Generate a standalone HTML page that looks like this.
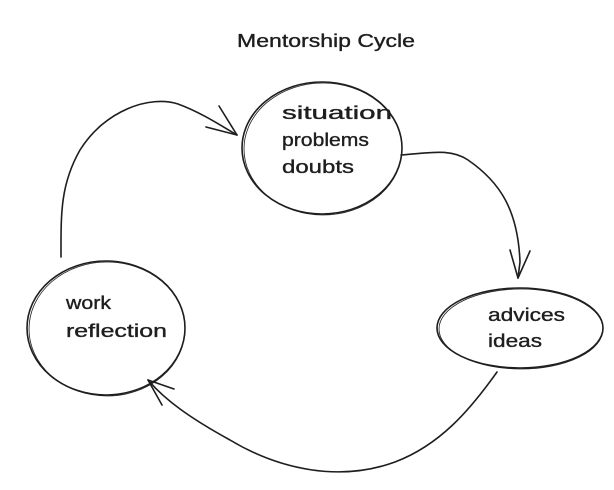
<!DOCTYPE html>
<html><head><meta charset="utf-8"><style>
html,body{margin:0;padding:0;background:#fff;}
svg{display:block;}
text{font-family:"Liberation Sans",sans-serif;fill:#1e1e1e;font-size:18px;stroke:#1e1e1e;stroke-width:0.35;}
</style></head><body>
<svg width="614" height="490" viewBox="0 0 614 490" xmlns="http://www.w3.org/2000/svg">
<g fill="none" stroke="#1e1e1e" stroke-width="1.6" stroke-linecap="round">
<ellipse cx="322" cy="148" rx="80" ry="66"/>
<ellipse cx="323" cy="149" rx="79" ry="66" stroke-width="0.8"/>
<ellipse cx="106" cy="328" rx="79" ry="67"/>
<ellipse cx="107" cy="329" rx="78" ry="67" stroke-width="0.8"/>
<ellipse cx="520" cy="328" rx="83" ry="40"/>
<ellipse cx="521" cy="329" rx="82" ry="40" stroke-width="0.8"/>
<path d="M61,257 C61,215 60,185 80,150 C105,110 150,95 178,104 C200,112 220,125 237,135"/>
<path d="M237,135 L206,127 M237,135 L219,106"/>
<path d="M401,155 C430,153 450,148 468,160 C500,182 518,210 520,262 L518,278"/>
<path d="M518,278 L510,250 M518,278 L530,251"/>
<path d="M497,372 C470,410 440,445 395,462 C340,482 280,470 230,440 C190,418 165,400 148,380"/>
<path d="M148,380 L174,389 M148,380 L162,405"/>
</g>
<text x="326" y="47" text-anchor="middle" textLength="178" lengthAdjust="spacingAndGlyphs">Mentorship Cycle</text>
<text x="282" y="119" textLength="110" lengthAdjust="spacingAndGlyphs">situation</text>
<text x="282" y="146" textLength="87" lengthAdjust="spacingAndGlyphs">problems</text>
<text x="282" y="173" textLength="72" lengthAdjust="spacingAndGlyphs">doubts</text>
<text x="66" y="309" textLength="45" lengthAdjust="spacingAndGlyphs">work</text>
<text x="66" y="337" textLength="101" lengthAdjust="spacingAndGlyphs">reflection</text>
<text x="488" y="321" textLength="77" lengthAdjust="spacingAndGlyphs">advices</text>
<text x="488" y="347" textLength="54" lengthAdjust="spacingAndGlyphs">ideas</text>
</svg>
</body></html>
